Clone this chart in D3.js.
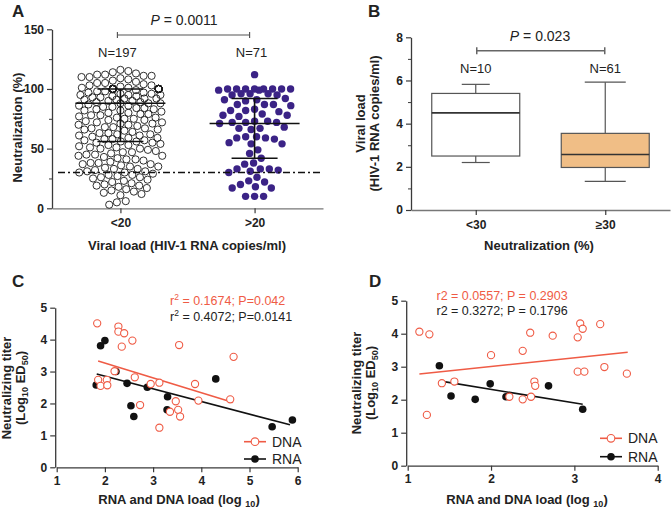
<!DOCTYPE html>
<html><head><meta charset="utf-8">
<script src="https://cdn.jsdelivr.net/npm/d3@7"></script>
<style>
body{margin:0;background:#fff;}
svg text{font-family:"Liberation Sans",Arial,sans-serif;}
</style></head>
<body><svg id="c" width="671" height="509"></svg>
<script>
// ---------- Panel A data ----------
const catsA = ["<20", ">20"];
const nA = ["N=197", "N=71"];
const group1 = [
 116,115,114,113,112,112,111,111,110,110,109,108,107,106,105,105,104,103,103,102,101,101,
 100,100,100,100,100,100,100,100,100,100,100,100,100,100,100,100,100,100,100,100,100,100,100,100,100,100,100,100,
 99,98,98,97,97,96,96,95,95,94,
 94,93,93,92,92,91,91,90,90,89,
 89,88,88,87,86,86,85,85,84,83,
 83,82,82,81,80,80,79,78,78,77,
 76,76,75,74,74,73,72,72,71,70,
 70,69,68,68,67,66,66,65,64,63,
 63,62,61,61,60,59,59,58,57,57,
 56,56,95,92,88,84,79,75,71,67,62,58,
 55,55,54,53,53,52,51,50,50,49,
 48,47,47,46,45,44,44,43,42,41,
 41,40,39,38,38,37,36,35,35,34,
 33,33,32,31,31,30,30,29,28,27,
 26,26,25,24,23,22,21,20,19,19,
 18,17,16,15,14,13,12,11,6,5,
 3,51,45,37,28
];
const group2 = [
 112,
 100,100,100,100,100,100,99,100,100,99,
 96,96,95,95,96,
 92,91,91,90,
 87,87,86,87,
 83,82,82,81,
 78,79,78,77,
 73,72,72,71,72,73,
 67,68,66,67,
 60,59,59,58,60,
 55,54,54,
 49,46,42,
 38,37,
 33,33,32,33,
 31,30,
 26,
 22,23,
 20,
 17,17,18,
 10,10,10
];
const medA = [88, 71];
const q1A = [56, 42];
const q3A = [100, 92];
const cutoffA = 30;
const yTicksA = [0, 50, 100, 150];
const pA = "0.0011";

// ---------- Panel B data ----------
const catsB = ["<30", "\u226530"];
const nB = ["N=10", "N=61"];
const bMin = [2.2, 1.33];
const bQ1 = [2.5, 1.97];
const bMed = [4.5, 2.57];
const bQ3 = [5.4, 3.55];
const bMax = [5.82, 5.92];
const yTicksB = [0, 2, 4, 6, 8];
const pB = "0.023";

// ---------- Panel C data ----------
const cDnaX = [1.84,2.28,2.28,2.40,2.57,2.35,3.54,4.67,2.20,1.86,1.91,2.04,2.05,2.62,2.95,3.13,3.87,2.73,3.47,3.94,4.60,3.35,3.52,3.56,3.13];
const cDnaY = [4.51,4.41,4.25,4.20,3.97,3.78,3.83,3.46,3.01,2.74,2.55,2.74,2.57,2.82,2.61,2.65,2.61,1.95,2.07,2.09,2.13,1.74,1.80,1.59,1.24];
const cRnaX = [1.91,2.00,1.82,2.23,2.46,2.88,3.30,3.29,2.54,2.60,4.30,5.47,5.89];
const cRnaY = [3.81,3.97,2.58,3.00,2.63,2.51,2.21,1.80,1.93,1.59,2.77,1.27,1.48];
const cFitDnaX = [1.86, 4.66], cFitDnaY = [3.33, 2.03];
const cFitRnaX = [1.83, 5.84], cFitRnaY = [2.92, 1.33];
const cStatDna = ["0.1674", "0.042"], cStatRna = ["0.4072", "0.0141"];
const xTicksC = [1,2,3,4,5,6];

// ---------- Panel D data ----------
const dDnaX = [1.14,1.26,1.23,1.41,1.56,2.00,2.22,2.38,2.38,2.47,2.48,2.52,2.53,2.74,3.04,3.07,3.10,3.04,3.12,3.31,3.36,3.63];
const dDnaY = [4.06,3.98,1.54,2.50,2.55,3.35,2.09,3.48,2.01,4.03,2.09,2.55,2.42,3.94,3.89,4.31,4.15,2.85,2.85,4.29,2.99,2.79];
const dRnaX = [1.38,1.52,1.81,1.99,2.18,2.69,3.10];
const dRnaY = [3.03,2.11,2.01,2.48,2.09,2.42,1.71];
const dFitDnaX = [1.14, 3.64], dFitDnaY = [2.78, 3.44];
const dFitRnaX = [1.38, 3.10], dFitRnaY = [2.57, 1.86];
const dStatDna = ["0.0557", "0.2903"], dStatRna = ["0.3272", "0.1796"];
const xTicksD = [1,2,3,4];
const yTicksCD = [0,1,2,3,4,5];

const RED = "#ef5b45", PURPLE = "#3b2386", AX = "#3a3a3a";
const svg = d3.select("#c");
const fmtInt = d3.format("d");

function styleAxis(g, size){
  g.select(".domain").attr("stroke", AX).attr("stroke-width", 1.3);
  g.selectAll(".tick line").attr("stroke", AX).attr("stroke-width", 1.2);
  g.selectAll(".tick text").attr("font-size", size||12).attr("font-weight","bold").attr("fill","#222");
}
function label(x, y, txt, opt){
  opt = opt||{};
  const t = svg.append("text").attr("x", x).attr("y", y).text(txt)
    .attr("font-size", opt.size||12).attr("font-weight", opt.bold?"bold":"normal")
    .attr("text-anchor", opt.anchor||"middle").attr("fill", opt.fill||"#222");
  if (opt.rot) t.attr("transform", `rotate(-90,${x},${y})`);
  return t;
}

// panel letters
label(12, 16.5, "A", {size:17, bold:true, anchor:"start"});
label(368, 16.5, "B", {size:17, bold:true, anchor:"start"});
label(12, 286.5, "C", {size:17, bold:true, anchor:"start"});
label(369, 286.5, "D", {size:17, bold:true, anchor:"start"});

// ================= Panel A =================
const yA = d3.scaleLinear().domain([0,150]).range([208.3, 29.3]);
const xA = d3.scalePoint().domain(catsA).range([52, 323]).padding(0.51);
{
  const gy = svg.append("g").attr("transform","translate(52,0)")
    .call(d3.axisLeft(yA).tickValues(yTicksA).tickSize(5).tickSizeOuter(0).tickPadding(3));
  styleAxis(gy);
  const gm = svg.append("g").attr("transform","translate(52,0)")
    .call(d3.axisLeft(yA).tickValues([25,75,125]).tickSize(3).tickFormat(""));
  gm.select(".domain").remove(); gm.selectAll("line").attr("stroke",AX);
  const gx = svg.append("g").attr("transform",`translate(0,${yA(0)})`)
    .call(d3.axisBottom(xA).tickSize(5).tickSizeOuter(0).tickPadding(5));
  styleAxis(gx);
  gx.select(".domain").attr("stroke","#777");
}
label(21.5, 127.5, "Neutralization (%)", {size:13, bold:true, rot:true});
label(187, 250, "Viral load (HIV-1 RNA copies/ml)", {size:13, bold:true});

// beeswarm layout: heavily tied values that overflow are stacked;
// other overflow goes to the least-crowded slot inside the column width
function swarm(values, D, W){
  const counts = d3.rollup(values, v => v.length, d => d);
  const pts = values.map(v => ({v, y:yA(v), n:0})).sort((a,b)=>b.v-a.v);
  const placed = [];
  for (const p of pts){
    const near = placed.filter(q => Math.abs(q.y-p.y) < D);
    const cands = [0];
    for (const q of near){
      const dx = Math.sqrt(D*D - (q.y-p.y)**2);
      cands.push(q.x+dx, q.x-dx);
    }
    cands.sort((a,b)=>Math.abs(a)-Math.abs(b));
    let best = cands.find(c => Math.abs(c) <= W && near.every(q => Math.hypot(q.x-c, q.y-p.y) >= D-0.01));
    if (best === undefined){
      const same = counts.get(p.v) >= 5 ? near.filter(q => q.v === p.v && q.n >= 0) : [];
      if (same.length){
        same.sort((a,b)=> (a.n-b.n) || (Math.abs(a.x)-Math.abs(b.x)));
        same[0].n++; best = same[0].x; p.n = -1;
      } else {
        let bd = -1;
        for (let s = 0; s <= W+0.01; s += D/2){
          for (const sx of [s, -s]){
            const md = d3.min(near, q => Math.hypot(q.x-sx, q.y-p.y));
            if (md > bd + 0.01){ bd = md; best = sx; }
          }
        }
      }
    }
    p.x = best; placed.push(p);
  }
  return placed;
}
const sw1 = swarm(group1, 8, 42);
const sw2 = swarm(group2, 9, 38);
svg.append("g").selectAll("circle").data(sw1).join("circle")
  .attr("cx", d => xA(catsA[0]) + d.x).attr("cy", d => d.y).attr("r", 3.6)
  .attr("fill","none").attr("stroke","#1a1a1a").attr("stroke-width",0.9);
svg.append("g").selectAll("circle").data(sw2).join("circle")
  .attr("cx", d => xA(catsA[1]) + d.x).attr("cy", d => d.y).attr("r", 3.7)
  .attr("fill", PURPLE);

// cutoff line
svg.append("line").attr("x1", 58).attr("x2", 323).attr("y1", yA(cutoffA)).attr("y2", yA(cutoffA))
  .attr("stroke","#111").attr("stroke-width",1.6).attr("stroke-dasharray","7,3,2,3");

// median & IQR
catsA.forEach((c,i) => {
  const cx = xA(c);
  const g = svg.append("g").attr("stroke","#111").attr("stroke-width",1.6);
  g.append("line").attr("x1",cx-45).attr("x2",cx+45).attr("y1",yA(medA[i])).attr("y2",yA(medA[i]));
  g.append("line").attr("x1",cx).attr("x2",cx).attr("y1",yA(q1A[i])).attr("y2",yA(q3A[i]));
  [q1A[i], q3A[i]].forEach(v => g.append("line").attr("x1",cx-23).attr("x2",cx+23).attr("y1",yA(v)).attr("y2",yA(v)));
  label(cx-3, 57, nA[i], {size:13});
});
// bracket A
{
  const x1 = xA(catsA[0])-3, x2 = xA(catsA[1])-5, y = 35;
  const g = svg.append("g").attr("stroke","#555").attr("stroke-width",1.2);
  g.append("line").attr("x1",x1).attr("x2",x2).attr("y1",y).attr("y2",y);
  g.append("line").attr("x1",x1).attr("x2",x1).attr("y1",y-3).attr("y2",y+3);
  g.append("line").attr("x1",x2).attr("x2",x2).attr("y1",y-3).attr("y2",y+3);
  const t = label(184, 25, "", {size:14});
  t.append("tspan").attr("font-style","italic").text("P");
  t.append("tspan").text(" = " + pA);
}

// ================= Panel B =================
const yB = d3.scaleLinear().domain([0,8]).range([210, 37.3]);
const xB = d3.scalePoint().domain(catsB).range([411, 670]).padding(0.5);
{
  const gy = svg.append("g").attr("transform","translate(411,0)")
    .call(d3.axisLeft(yB).tickValues(yTicksB).tickSize(5).tickSizeOuter(0).tickPadding(3));
  styleAxis(gy);
  const gm = svg.append("g").attr("transform","translate(411,0)")
    .call(d3.axisLeft(yB).tickValues([1,3,5,7]).tickSize(3).tickFormat(""));
  gm.select(".domain").remove(); gm.selectAll("line").attr("stroke",AX);
  const gx = svg.append("g").attr("transform",`translate(0,${yB(0)})`)
    .call(d3.axisBottom(xB).tickSize(5).tickSizeOuter(0).tickPadding(5));
  styleAxis(gx);
  gx.select(".domain").attr("stroke","#777");
}
label(364.5, 123.5, "Viral load", {size:13, bold:true, rot:true});
label(379, 123.5, "(HIV-1 RNA copies/ml)", {size:13, bold:true, rot:true});
label(539, 250, "Neutralization (%)", {size:13, bold:true});
const boxFill = ["#ffffff", "#f0be86"];
const capW = [28, 41];
catsB.forEach((c,i) => {
  const cx = xB(c), bw = 88;
  const g = svg.append("g").attr("stroke","#555").attr("stroke-width",1.2);
  g.append("line").attr("x1",cx).attr("x2",cx).attr("y1",yB(bMax[i])).attr("y2",yB(bQ3[i]));
  g.append("line").attr("x1",cx).attr("x2",cx).attr("y1",yB(bQ1[i])).attr("y2",yB(bMin[i]));
  [bMin[i], bMax[i]].forEach(v => g.append("line").attr("x1",cx-capW[i]/2).attr("x2",cx+capW[i]/2).attr("y1",yB(v)).attr("y2",yB(v)));
  g.append("rect").attr("x",cx-bw/2).attr("width",bw).attr("y",yB(bQ3[i])).attr("height",yB(bQ1[i])-yB(bQ3[i]))
    .attr("fill",boxFill[i]);
  g.append("line").attr("x1",cx-bw/2).attr("x2",cx+bw/2).attr("y1",yB(bMed[i])).attr("y2",yB(bMed[i]))
    .attr("stroke","#333").attr("stroke-width",1.6);
  label(cx, 73, nB[i], {size:13});
});
{
  const x1 = xB(catsB[0])+1, x2 = xB(catsB[1])-0.5, y = 50.7;
  const g = svg.append("g").attr("stroke","#666").attr("stroke-width",1.5);
  g.append("line").attr("x1",x1).attr("x2",x2).attr("y1",y).attr("y2",y);
  g.append("line").attr("x1",x1).attr("x2",x1).attr("y1",y-3.5).attr("y2",y+3.5);
  g.append("line").attr("x1",x2).attr("x2",x2).attr("y1",y-3.5).attr("y2",y+3.5);
  const t = label(540, 40.5, "", {size:14});
  t.append("tspan").attr("font-style","italic").text("P");
  t.append("tspan").text(" = " + pB);
}

// ================= Panels C & D =================
function scatterPanel(o){
  const x = d3.scaleLinear().domain(o.xd).range(o.xr);
  const y = d3.scaleLinear().domain([0,5]).range(o.yr);
  const gy = svg.append("g").attr("transform",`translate(${o.xr[0]-1.5},0)`)
    .call(d3.axisLeft(y).tickValues(yTicksCD).tickFormat(fmtInt).tickSize(5).tickSizeOuter(0).tickPadding(3));
  styleAxis(gy);
  const gx = svg.append("g").attr("transform",`translate(0,${o.yr[0]})`)
    .call(d3.axisBottom(x).tickValues(o.xt).tickFormat(fmtInt).tickSize(5).tickSizeOuter(0).tickPadding(4));
  styleAxis(gx);
  // y title
  label(o.ty1x, o.tyc, "Neutralizing titer", {size:13, bold:true, rot:true});
  const t2 = label(o.ty2x, o.tyc, "", {size:13, bold:true, rot:true});
  t2.append("tspan").text("(Log");
  t2.append("tspan").attr("font-size",9).attr("dy",3).text("10");
  t2.append("tspan").attr("dy",-3).text(" ED");
  t2.append("tspan").attr("font-size",9).attr("dy",3).text("50");
  t2.append("tspan").attr("dy",-3).text(")");
  // x title
  const tx = label(o.txc, 504, "", {size:13, bold:true});
  tx.append("tspan").text("RNA and DNA load (log ");
  tx.append("tspan").attr("font-size",9).attr("dy",3).text("10");
  tx.append("tspan").attr("dy",-3).text(")");
  // fit lines
  svg.append("line").attr("x1",x(o.fdx[0])).attr("x2",x(o.fdx[1])).attr("y1",y(o.fdy[0])).attr("y2",y(o.fdy[1]))
    .attr("stroke",RED).attr("stroke-width",1.6);
  svg.append("line").attr("x1",x(o.frx[0])).attr("x2",x(o.frx[1])).attr("y1",y(o.fry[0])).attr("y2",y(o.fry[1]))
    .attr("stroke","#111").attr("stroke-width",1.6);
  // points
  svg.append("g").selectAll("circle").data(o.rx).join("circle")
    .attr("cx",(d)=>x(d)).attr("cy",(d,i)=>y(o.ry[i])).attr("r",3.8).attr("fill","#111");
  svg.append("g").selectAll("circle").data(o.dx).join("circle")
    .attr("cx",(d)=>x(d)).attr("cy",(d,i)=>y(o.dy[i])).attr("r",3.6)
    .attr("fill","#fff").attr("stroke",RED).attr("stroke-width",1.1);
  // stats
  const s1 = label(o.sx, o.sy1, "", {size:12.5, anchor:"start", fill:RED});
  const s2 = label(o.sx, o.sy2, "", {size:12.5, anchor:"start", fill:"#222"});
  if (o.sup){
    s1.append("tspan").text("r"); s1.append("tspan").attr("font-size",8.5).attr("dy",-5).text("2");
    s1.append("tspan").attr("dy",5).text(` = ${o.sd[0]}; P=${o.sd[1]}`);
    s2.append("tspan").text("r"); s2.append("tspan").attr("font-size",8.5).attr("dy",-5).text("2");
    s2.append("tspan").attr("dy",5).text(` = ${o.sr[0]}; P=${o.sr[1]}`);
  } else {
    s1.text(`r2 = ${o.sd[0]}; P = ${o.sd[1]}`);
    s2.text(`r2 = ${o.sr[0]}; P = ${o.sr[1]}`);
  }
  // legend
  [["DNA", RED, true, o.ly1], ["RNA", "#111", false, o.ly2]].forEach(([name,col,open,ly]) => {
    svg.append("line").attr("x1",o.lx).attr("x2",o.lx+22).attr("y1",ly).attr("y2",ly).attr("stroke",col).attr("stroke-width",1.6);
    svg.append("circle").attr("cx",o.lx+11).attr("cy",ly).attr("r",3.8)
      .attr("fill",open?"#fff":"#111").attr("stroke",open?col:"none").attr("stroke-width",1.1);
    label(o.lx+28, ly+5, name, {size:14, anchor:"start"});
  });
}
scatterPanel({xd:[1,6], xr:[56.7,297.7], yr:[467.3,307.7], xt:xTicksC,
  ty1x:11, ty2x:25, tyc:388, txc:179,
  fdx:cFitDnaX, fdy:cFitDnaY, frx:cFitRnaX, fry:cFitRnaY,
  dx:cDnaX, dy:cDnaY, rx:cRnaX, ry:cRnaY,
  sup:true, sd:cStatDna, sr:cStatRna, sx:170, sy1:304.5, sy2:321,
  lx:244, ly1:441.7, ly2:459});
scatterPanel({xd:[1,4], xr:[407.7,657.7], yr:[465.7,300.7], xt:xTicksD,
  ty1x:361, ty2x:375, tyc:383, txc:527,
  fdx:dFitDnaX, fdy:dFitDnaY, frx:dFitRnaX, fry:dFitRnaY,
  dx:dDnaX, dy:dDnaY, rx:dRnaX, ry:dRnaY,
  sup:false, sd:dStatDna, sr:dStatRna, sx:436.5, sy1:300, sy2:314.5,
  lx:600, ly1:438.3, ly2:456.7});
</script></body></html>
